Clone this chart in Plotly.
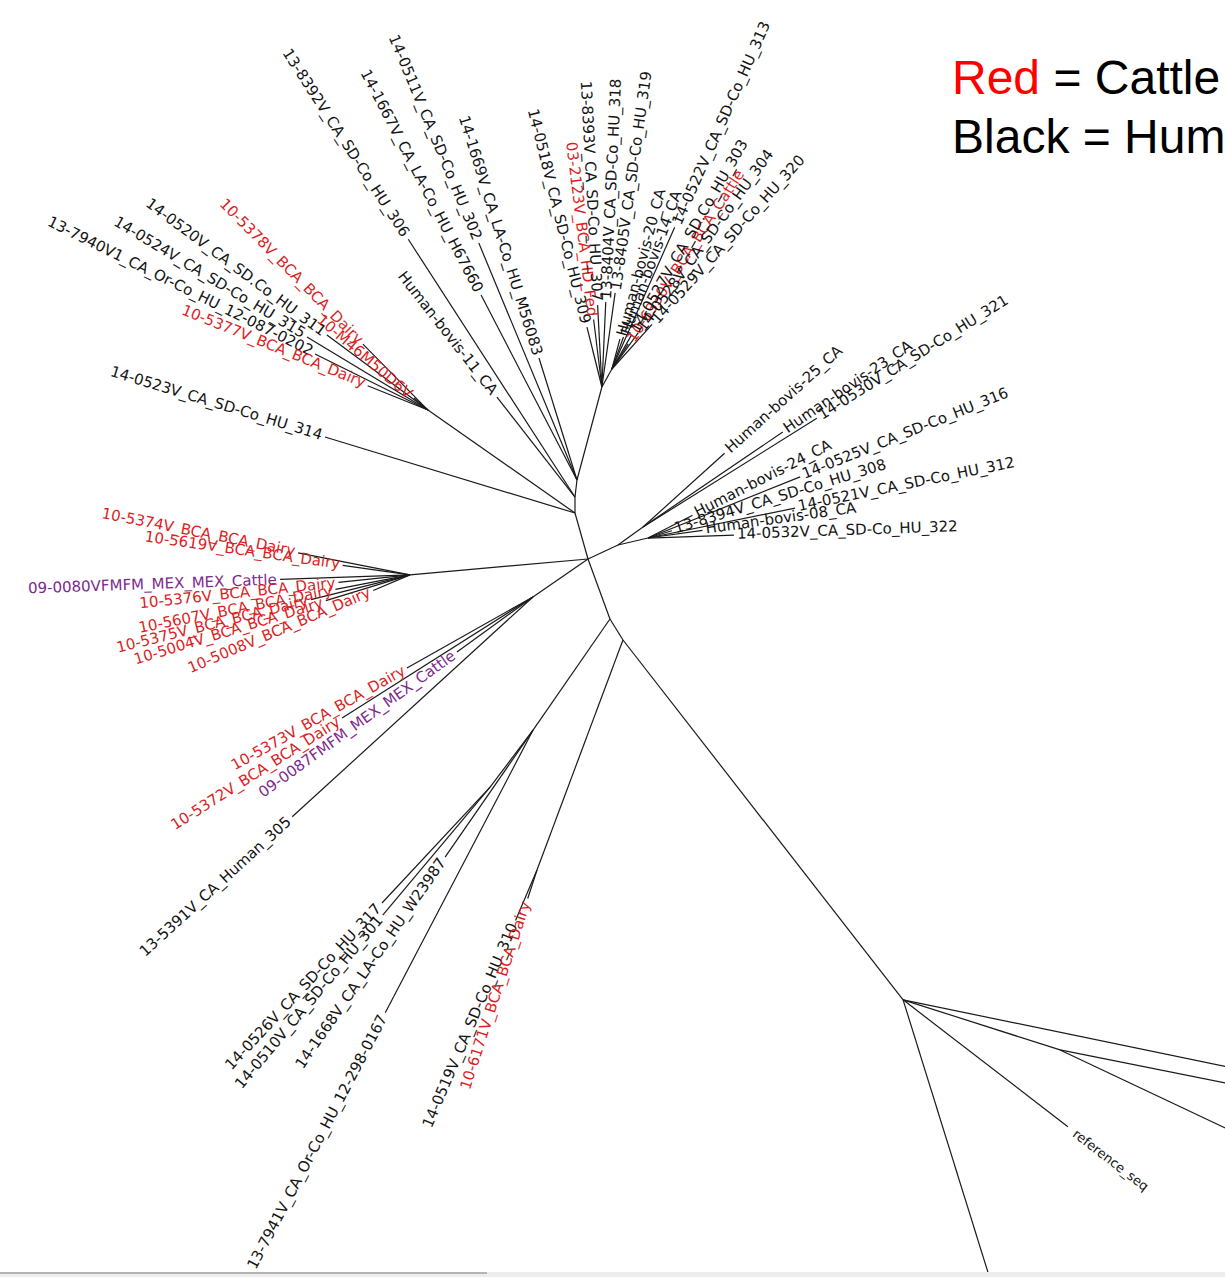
import math
import plotly.graph_objects as go

# ---------------- tree data (unrooted layout: parent, branch angle in degrees, branch length) -------------
node_ids = [
    "A", "B", "C2", "D", "TL", "E", "R1", "R2", "R3", "LH", "LL", "DN1", "LW", "LW2", "DN2", "SN", "RF", "RN",
    "14-0523V_CA_SD-Co_HU_314",
    "10-5378V_BCA_BCA_Dairy", "10-M46M50D6V", "14-0520V_CA_SD.Co_HU_311", "14-0524V_CA_SD-Co_HU_315",
    "13-7940V1_CA_Or-Co_HU_12-087-0202", "10-5377V_BCA_BCA_Dairy",
    "13-8392V_CA_SD-Co_HU_306", "Human-bovis-11_CA",
    "14-1667V_CA_LA-Co_HU_H67660", "14-0511V_CA_SD-Co_HU_302", "14-1669V_CA_LA-Co_HU_M56083",
    "14-0518V_CA_SD-Co_HU_309", "03-2123V_BCA_HD_Fed", "13-8393V_CA_SD-Co_HU_307",
    "13-8404V_CA_SD-Co_HU_318", "13-8405V_CA_SD-Co_HU_319",
    "Human-bovis-20_CA", "Human-bovis-14_CA", "14-0522V_CA_SD-Co_HU_313", "10-6330V_BCA_BCA_Cattle",
    "14-0527V_CA_SD.Co_HU_303", "14-0528V_CA_SD-Co_HU_304", "14-0529V_CA_SD-Co_HU_320",
    "Human-bovis-25_CA", "Human-bovis-23_CA", "14-0530V_CA_SD-Co_HU_321",
    "Human-bovis-24_CA", "14-0525V_CA_SD-Co_HU_316", "13-8394V_CA_SD-Co_HU_308",
    "14-0521V_CA_SD-Co_HU_312", "Human-bovis-08_CA", "14-0532V_CA_SD-Co_HU_322",
    "10-5374V_BCA_BCA_Dairy", "10-5619V_BCA_BCA_Dairy", "09-0080VFMFM_MEX_MEX_Cattle",
    "10-5376V_BCA_BCA_Dairy", "10-5607V_BCA_BCA_Dairy", "10-5375V_BCA_BCA_Dairy",
    "10-5004V_BCA_BCA_Dairy", "10-5008V_BCA_BCA_Dairy",
    "10-5373V_BCA_BCA_Dairy", "10-5372V_BCA_BCA_Dairy", "09-0087FMFM_MEX_MEX_Cattle",
    "13-5391V_CA_Human_305",
    "14-1668V_CA_LA-Co_HU_W23987", "13-7941V_CA_Or-Co_HU_12-298-0167",
    "14-0526V_CA_SD-Co_HU_317", "14-0510V_CA_SD-Co_HU_301",
    "14-0519V_CA_SD-Co_HU_310", "10-6171V_BCA_BCA_Dairy",
    "outgroup_1", "reference_seq", "outgroup_2", "outgroup_3", "outgroup_4",
]
parent_ids = [
    "root", "A", "B", "C2", "A", "D", "root", "R1", "R1", "root", "root", "root", "DN1", "LW", "DN1", "DN2", "DN2", "RF",
    "A",
    "TL", "TL", "TL", "TL", "TL", "TL",
    "B", "B",
    "C2", "C2", "C2",
    "D", "D", "D", "D", "D",
    "E", "E", "E", "E", "E", "E", "E",
    "R2", "R2", "R2",
    "R3", "R3", "R3", "R3", "R3", "R3",
    "LH", "LH", "LH", "LH", "LH", "LH", "LH", "LH",
    "LL", "LL", "LL", "LL",
    "LW", "LW",
    "LW2", "LW2",
    "SN", "SN",
    "RF", "RF", "RF", "RN", "RN",
]
branch_angle_deg = [
    105.8, 90.0, 83.3, 75.0, 145.0, 61.0, 25.0, 35.8, 13.1, 185.1, 214.6, -69.9, 235.3, 233.0, -58.2, 249.5, -52.1, -17.7,
    163.1,
    134.6, 139.4, 143.4, 148.9, 153.6, 158.0,
    122.9, 128.0,
    117.4, 112.5, 107.3,
    104.0, 97.0, 93.0, 87.4, 82.0,
    75.0, 70.0, 66.1, 57.0, 60.0, 54.0, 48.0,
    42.1, 34.2, 32.0,
    27.0, 21.9, 17.0, 11.5, 8.0, 2.0,
    168.9, 172.0, 182.0, 186.0, 191.0, 194.0, 197.0, 203.0,
    209.4, 212.4, 215.9, 222.4,
    235.3, 242.4,
    227.0, 230.0,
    247.0, 252.0,
    -11.7, -37.6, -72.7, -11.3, -25.3,
]
branch_len = [
    47.8, 16.0, 17.1, 96.3, 179.5, 20.6, 33.1, 30.8, 30.8, 178.7, 66.9, 63.9, 135.1, 71.4, 24.7, 245.5, 456.0, 164.8,
    261.3,
    92.6, 18.4, 125.8, 141.3, 126.1, 65.0,
    307.0, 126.8,
    208.4, 256.5, 127.8,
    61.8, 68.0, 82.0, 85.0, 95.0,
    31.0, 34.0, 155.0, 30.0, 40.0, 45.0, 60.0,
    110.0, 169.0, 205.0,
    50.0, 164.0, 25.0, 150.0, 55.0, 86.0,
    114.0, 68.0, 130.0, 72.0, 76.0, 102.0, 88.0, 40.0,
    144.6, 226.0, 93.8, 326.0,
    154.5, 319.0,
    158.5, 167.0,
    55.0, 30.0,
    420.0, 208.0, 340.0, 300.0, 300.0,
]
node_host = (
    ["internal"] * 18
    + ["human"]
    + ["cattle", "cattle", "human", "human", "human", "cattle"]
    + ["human", "human"]
    + ["human", "human", "human"]
    + ["human", "cattle", "human", "human", "human"]
    + ["human", "human", "human", "cattle", "human", "human", "human"]
    + ["human", "human", "human"]
    + ["human"] * 6
    + ["cattle", "cattle", "mex", "cattle", "cattle", "cattle", "cattle", "cattle"]
    + ["cattle", "cattle", "mex", "human"]
    + ["human", "human"]
    + ["human", "human"]
    + ["human", "cattle"]
    + ["unlabeled", "reference", "unlabeled", "unlabeled", "unlabeled"]
)

legend_lines = [("Red", " = Cattle"), ("Black", " = Human")]

# ---------------- styling ----------------
W, H = 1225, 1277
ROOT_SCREEN = (588, 559)
host_colors = {"human": "#141414", "cattle": "#dc1e24", "mex": "#7d2a8c", "reference": "#141414"}
LABEL_FONT = "DejaVu Sans"
LABEL_SIZE = 15
REF_SIZE = 13
GAP = 3
REF_GAP = 9

# ---------------- layout of tree ----------------
pos = {"root": (0.0, 0.0)}
for nid, par, ang, ln in zip(node_ids, parent_ids, branch_angle_deg, branch_len):
    px, py = pos[par]
    a = math.radians(ang)
    pos[nid] = (px + ln * math.cos(a), py + ln * math.sin(a))

xs, ys = [], []
for nid, par in zip(node_ids, parent_ids):
    x0, y0 = pos[par]
    x1, y1 = pos[nid]
    xs += [x0, x1, None]
    ys += [y0, y1, None]

fig = go.Figure()
fig.add_trace(go.Scatter(x=xs, y=ys, mode="lines", line=dict(color="#1a1a1a", width=1.2),
                         hoverinfo="skip", showlegend=False))

annotations = []
for nid, ang, host in zip(node_ids, branch_angle_deg, node_host):
    if host in ("internal", "unlabeled"):
        continue
    size = REF_SIZE if host == "reference" else LABEL_SIZE
    gap = REF_GAP if host == "reference" else GAP
    tx, ty = pos[nid]
    a = math.radians(ang)
    ux, uy = math.cos(a), math.sin(a)
    px, py = tx + gap * ux, ty + gap * uy
    h = 1.16 * size
    if ux >= -1e-9:
        xanchor = "left"
        xa = px - (h / 2) * abs(uy)
        textangle = -ang
    else:
        xanchor = "right"
        xa = px + (h / 2) * abs(uy)
        textangle = 180 - ang
    while textangle > 180:
        textangle -= 360
    while textangle <= -180:
        textangle += 360
    if uy >= 0:
        yanchor = "bottom"
        ya = py - (h / 2) * abs(ux)
    else:
        yanchor = "top"
        ya = py + (h / 2) * abs(ux)
    annotations.append(dict(
        x=xa, y=ya, xref="x", yref="y", text=nid, showarrow=False,
        xanchor=xanchor, yanchor=yanchor, textangle=textangle,
        borderpad=0, borderwidth=0,
        font=dict(family=LABEL_FONT, size=size, color=host_colors[host]),
    ))

legend_y = [77, 136]
for (first, rest), yy in zip(legend_lines, legend_y):
    col = "#ff0000" if first == "Red" else "#000000"
    annotations.append(dict(
        x=952 / W, y=1 - yy / H, xref="paper", yref="paper", showarrow=False,
        xanchor="left", yanchor="middle", borderpad=0, borderwidth=0,
        text=f"<span style='color:{col}'>{first}</span>{rest}",
        font=dict(family="Liberation Sans, Arial", size=48, color="#000000"),
    ))

shapes = [
    dict(type="rect", xref="paper", yref="paper", x0=0, x1=1, y0=0, y1=5 / H,
         fillcolor="#ededed", line=dict(width=0), layer="above"),
    dict(type="line", xref="paper", yref="paper", x0=0, x1=487 / W, y0=4 / H, y1=4 / H,
         line=dict(color="#b4b4b4", width=2), layer="above"),
]

fig.update_layout(
    width=W, height=H, autosize=False,
    margin=dict(l=0, r=0, t=0, b=0, pad=0),
    paper_bgcolor="white", plot_bgcolor="white",
    xaxis=dict(range=[-ROOT_SCREEN[0], W - ROOT_SCREEN[0]], visible=False, fixedrange=True),
    yaxis=dict(range=[-(H - ROOT_SCREEN[1]), ROOT_SCREEN[1]], visible=False, fixedrange=True),
    annotations=annotations,
    shapes=shapes,
    showlegend=False,
)

fig.write_html("out.html", config={"displayModeBar": False},
               post_script="document.body.style.margin='0';document.body.style.overflow='hidden';")
